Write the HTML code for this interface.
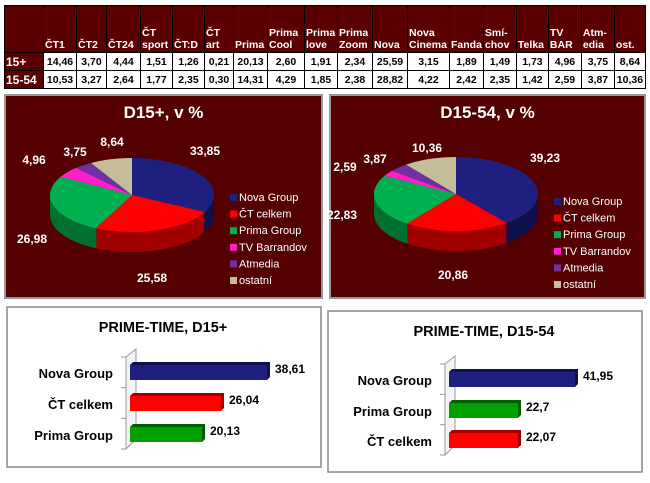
<!DOCTYPE html>
<html><head><meta charset="utf-8">
<style>
body{margin:0;background:#fff;width:650px;height:483px;overflow:hidden;position:relative;font-family:"Liberation Sans",sans-serif}
table{position:absolute;left:4px;top:5px;border-collapse:collapse;font-size:10.5px;font-weight:bold;table-layout:fixed}
td{border:1px solid #000;padding:0 1px;line-height:12px;white-space:nowrap;overflow:hidden}
tr.h td{background:#5a0000;color:#fff;height:45px;vertical-align:bottom;padding-bottom:1px;text-align:left}
tr.d td{background:#fff;color:#000;height:17px;text-align:center;font-size:10.5px}
tr.d td.l{background:#5a0000;color:#fff;text-align:left;font-size:12px}
</style></head><body>
<table>
<colgroup><col style="width:39px"><col style="width:33px"><col style="width:30px"><col style="width:34px"><col style="width:32px"><col style="width:32px"><col style="width:29px"><col style="width:34px"><col style="width:37px"><col style="width:33px"><col style="width:35px"><col style="width:35px"><col style="width:42px"><col style="width:33px"><col style="width:33px"><col style="width:32px"><col style="width:33px"><col style="width:33px"><col style="width:31px"></colgroup>
<tr class="h"><td></td><td>ČT1</td><td>ČT2</td><td>ČT24</td><td>ČT<br>sport</td><td>ČT:D</td><td>ČT<br>art</td><td>Prima</td><td>Prima<br>Cool</td><td>Prima<br>love</td><td>Prima<br>Zoom</td><td>Nova</td><td>Nova<br>Cinema</td><td>Fanda</td><td>Smí-<br>chov</td><td>Telka</td><td>TV<br>BAR</td><td>Atm-<br>edia</td><td>ost.</td></tr>
<tr class="d"><td class="l">15+</td><td>14,46</td><td>3,70</td><td>4,44</td><td>1,51</td><td>1,26</td><td>0,21</td><td>20,13</td><td>2,60</td><td>1,91</td><td>2,34</td><td>25,59</td><td>3,15</td><td>1,89</td><td>1,49</td><td>1,73</td><td>4,96</td><td>3,75</td><td>8,64</td></tr>
<tr class="d"><td class="l">15-54</td><td>10,53</td><td>3,27</td><td>2,64</td><td>1,77</td><td>2,35</td><td>0,30</td><td>14,31</td><td>4,29</td><td>1,85</td><td>2,38</td><td>28,82</td><td>4,22</td><td>2,42</td><td>2,35</td><td>1,42</td><td>2,59</td><td>3,87</td><td>10,36</td></tr>
</table>
<svg id="s" width="650" height="483" style="position:absolute;left:0;top:0" font-family="Liberation Sans, sans-serif"></svg>
<script>
const S=document.getElementById('s');let h='';
const cols=['#1f1f7f','#ff0000','#00b050','#ff1fc8','#7030a0','#c4bd97'];
const dark=['#10104a','#a00000','#007030','#a01080','#402060','#8a8060'];
const names=['Nova Group','ČT celkem','Prima Group','TV Barrandov','Atmedia','ostatní'];
function pie(px,py,pw,ph,title,cx,cy,vals,labels,lx,ly){
 h+=`<rect x="${px}" y="${py}" width="${pw}" height="${ph}" fill="#550000" stroke="#999" stroke-width="2"/>`;
 h+=`<text x="${px+pw/2}" y="${py+23}" fill="#fff" font-size="17" font-weight="bold" text-anchor="middle">${title}</text>`;
 const rx=82,ry=37,d=20;const tot=vals.reduce((a,b)=>a+b,0);
 function slices(oy,c){let a=-Math.PI/2,s='';vals.forEach((v,i)=>{const b=a+v/tot*2*Math.PI;
  const x1=cx+rx*Math.cos(a),y1=oy+ry*Math.sin(a),x2=cx+rx*Math.cos(b),y2=oy+ry*Math.sin(b);
  s+=`<path d="M${cx},${oy}L${x1},${y1}A${rx},${ry} 0 ${b-a>Math.PI?1:0} 1 ${x2},${y2}Z" fill="${c[i]}"/>`;a=b;});return s;}
 for(let k=d;k>0;k--)h+=slices(cy+k,dark);
 h+=slices(cy,cols);
 labels.forEach(l=>h+=`<text x="${l[1]}" y="${l[2]}" fill="#fff" font-size="12" font-weight="bold" text-anchor="middle">${l[0]}</text>`);
 names.forEach((n,i)=>{h+=`<rect x="${lx}" y="${ly+i*16.6-7}" width="7" height="7" fill="${cols[i]}"/><text x="${lx+9}" y="${ly+i*16.6}" fill="#fff" font-size="11">${n}</text>`;});
}
pie(5,95,317,203,'D15+, v %',132,195,[33.85,25.58,26.98,4.96,3.75,8.64],[['33,85',205,155],['8,64',112,146],['3,75',75,156],['4,96',34,164],['26,98',32,243],['25,58',152,282]],230,201);
pie(330,95,315,203,'D15-54, v %',456,194,[39.23,20.86,22.83,2.59,3.87,10.36],[['39,23',545,162],['10,36',427,152],['3,87',375,163],['2,59',345,171],['22,83',342,219],['20,86',453,279]],554,205);
function bars(px,py,pw,ph,title,tx,ty,x0,rows,lblx){
 h+=`<rect x="${px}" y="${py}" width="${pw}" height="${ph}" fill="#fff" stroke="#888" stroke-width="1.5"/>`;
 h+=`<text x="${tx}" y="${ty}" fill="#000" font-size="14.5" font-weight="bold" text-anchor="middle">${title}</text>`;
 const top=rows[0][2]-12,bot=rows[2][2]+22;
 h+=`<path d="M${x0-4},${top+4}L${x0+6},${top-4}L${x0+6},${bot-10}L${x0-4},${bot}Z" fill="#f4f4f4" stroke="#999"/>`;
 for(let k=0;k<4;k++){const y=top+4+k*(bot-top-4)/3;h+=`<line x1="${x0-9}" y1="${y}" x2="${x0-4}" y2="${y}" stroke="#999"/>`;}
 rows.forEach(r=>{const[n,xe,y,c,dc,v]=r;
  h+=`<path d="M${x0},${y}L${x0+3},${y-3}L${xe+3},${y-3}L${xe+3},${y+12}L${xe},${y+15}Z" fill="${dc}"/>`;
  h+=`<rect x="${x0}" y="${y}" width="${xe-x0}" height="15" fill="${c}"/>`;
  h+=`<text x="${lblx}" y="${y+13}" font-size="13" font-weight="bold" text-anchor="end">${n}</text>`;
  h+=`<text x="${xe+8}" y="${y+8}" font-size="12" font-weight="bold">${v}</text>`;});
}
bars(7,307,314,160,'PRIME-TIME, D15+',163,332,130,[['Nova Group',267,365,'#1f1f7f','#10104a','38,61'],['ČT celkem',221,396,'#ff0000','#a00000','26,04'],['Prima Group',202,427,'#00a000','#006000','20,13']],113);
bars(328,311,314,161,'PRIME-TIME, D15-54',484,336,449,[['Nova Group',575,372,'#1f1f7f','#10104a','41,95'],['Prima Group',518,403,'#00a000','#006000','22,7'],['ČT celkem',518,433,'#ff0000','#a00000','22,07']],432);
S.innerHTML=h;
</script>
</body></html>
